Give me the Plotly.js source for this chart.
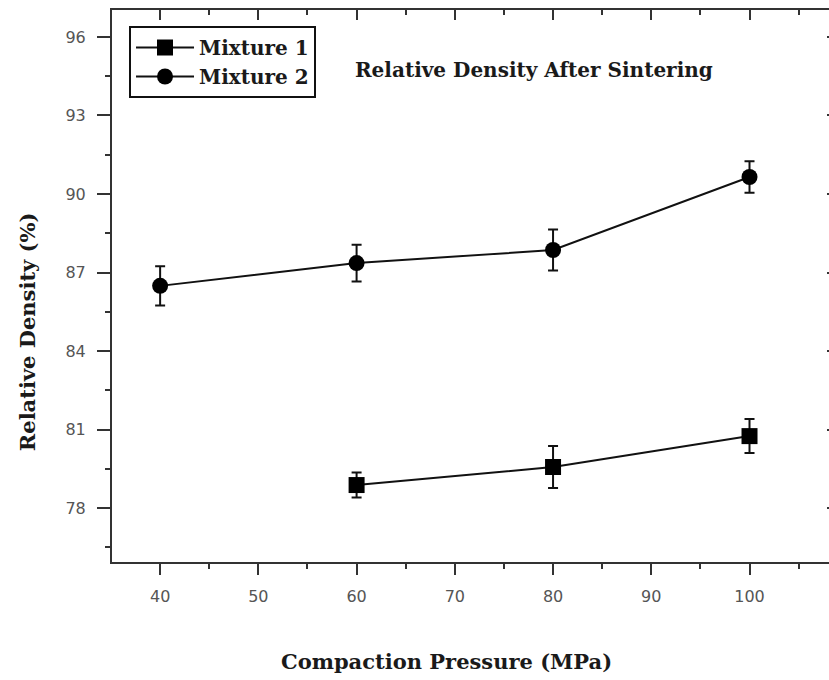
<!DOCTYPE html>
<html>
<head>
<meta charset="utf-8">
<script src="https://cdn.plot.ly/plotly-3.0.1.min.js"></script>
<style>
html, body { margin: 0; padding: 0; overflow: hidden; background: #fff; }
#chart { width: 840px; height: 680px; }
</style>
</head>
<body>
<div id="chart"></div>
<script>
// ---- data ----
const seriesNames = ["Mixture 1", "Mixture 2"];
const pressure1 = [60, 80, 100];
const density1 = [78.88, 79.57, 80.75];
const error1 = [0.48, 0.80, 0.65];
const pressure2 = [40, 60, 80, 100];
const density2 = [86.49, 87.36, 87.86, 90.65];
const error2 = [0.75, 0.70, 0.78, 0.60];
const chartTitle = "Relative Density After Sintering";
const xTitle = "Compaction Pressure (MPa)";
const yTitle = "Relative Density (%)";

const xRange = [35.1, 108.5];
const yRange = [75.94, 97.03];

const serif = "DejaVu Serif, serif";
const axisCol = "#333";
const tickFont = { family: "DejaVu Sans, sans-serif", size: 16, color: "#555" };

function series(x, y, e, name, symbol, size) {
  return {
    type: "scatter", mode: "lines+markers", name: name,
    x: x, y: y,
    line: { color: "#111", width: 2 },
    marker: { symbol: symbol, size: size, color: "#000" },
    error_y: { type: "data", array: e, visible: true, color: "#111", thickness: 2, width: 5 },
    xaxis: "x", yaxis: "y"
  };
}

const traces = [
  series(pressure1, density1, error1, seriesNames[0], "square", 16),
  series(pressure2, density2, error2, seriesNames[1], "circle", 16),
  { type: "scatter", mode: "markers", x: [], y: [], xaxis: "x2", yaxis: "y2", showlegend: false, hoverinfo: "skip" }
];

const baseAxis = {
  showgrid: false, zeroline: false, showline: true,
  linewidth: 2, linecolor: axisCol, tickwidth: 2, tickcolor: axisCol,
  tickfont: tickFont
};

const layout = {
  width: 840, height: 680,
  margin: { l: 112, r: 7, t: 10, b: 118 },
  paper_bgcolor: "#fff", plot_bgcolor: "#fff",
  showlegend: true,
  legend: {
    x: 0.0236, y: 0.971, xanchor: "left", yanchor: "top",
    bgcolor: "#fff", bordercolor: "#111", borderwidth: 2,
    font: { family: serif, size: 20, color: "#1a1a1a", weight: "bold" },
    tracegroupgap: 0, itemwidth: 58
  },
  xaxis: Object.assign({}, baseAxis, {
    range: xRange, tick0: 0, dtick: 10, ticks: "outside", ticklen: 11,
    ticklabelstandoff: 8,
    minor: { dtick: 5, tick0: 0, ticks: "outside", ticklen: 5, tickwidth: 2, tickcolor: axisCol }
  }),
  xaxis2: Object.assign({}, baseAxis, {
    range: xRange, overlaying: "x", anchor: "y", side: "top",
    tick0: 0, dtick: 10, ticks: "inside", ticklen: 10, showticklabels: false,
    minor: { dtick: 5, tick0: 0, ticks: "inside", ticklen: 5, tickwidth: 2, tickcolor: axisCol }
  }),
  yaxis: Object.assign({}, baseAxis, {
    range: yRange, tick0: 0, dtick: 3, ticks: "outside", ticklen: 13,
    ticklabelstandoff: 8,
    minor: { dtick: 1.5, tick0: 0, ticks: "outside", ticklen: 5, tickwidth: 2, tickcolor: axisCol }
  }),
  yaxis2: Object.assign({}, baseAxis, {
    range: yRange, overlaying: "y", anchor: "x", side: "right",
    tick0: 0, dtick: 3, ticks: "inside", ticklen: 6, showticklabels: false,
    minor: { dtick: 1.5, tick0: 0, ticks: "inside", ticklen: 3, tickwidth: 2, tickcolor: axisCol }
  }),
  annotations: [
    { text: chartTitle, xref: "paper", yref: "paper", x: 0.585, y: 0.891,
      xanchor: "center", yanchor: "middle", showarrow: false,
      font: { family: serif, size: 20, color: "#1a1a1a", weight: "bold" } },
    { text: xTitle, xref: "paper", yref: "paper", x: 0.464, y: -0.181,
      xanchor: "center", yanchor: "middle", showarrow: false,
      font: { family: serif, size: 21, color: "#1a1a1a", weight: "bold" } },
    { text: yTitle, xref: "paper", yref: "paper", x: -0.118, y: 0.418,
      xanchor: "center", yanchor: "middle", showarrow: false, textangle: -90,
      font: { family: serif, size: 21, color: "#1a1a1a", weight: "bold" } }
  ]
};

Plotly.newPlot("chart", traces, layout, { displayModeBar: false, staticPlot: true });
</script>
</body>
</html>
